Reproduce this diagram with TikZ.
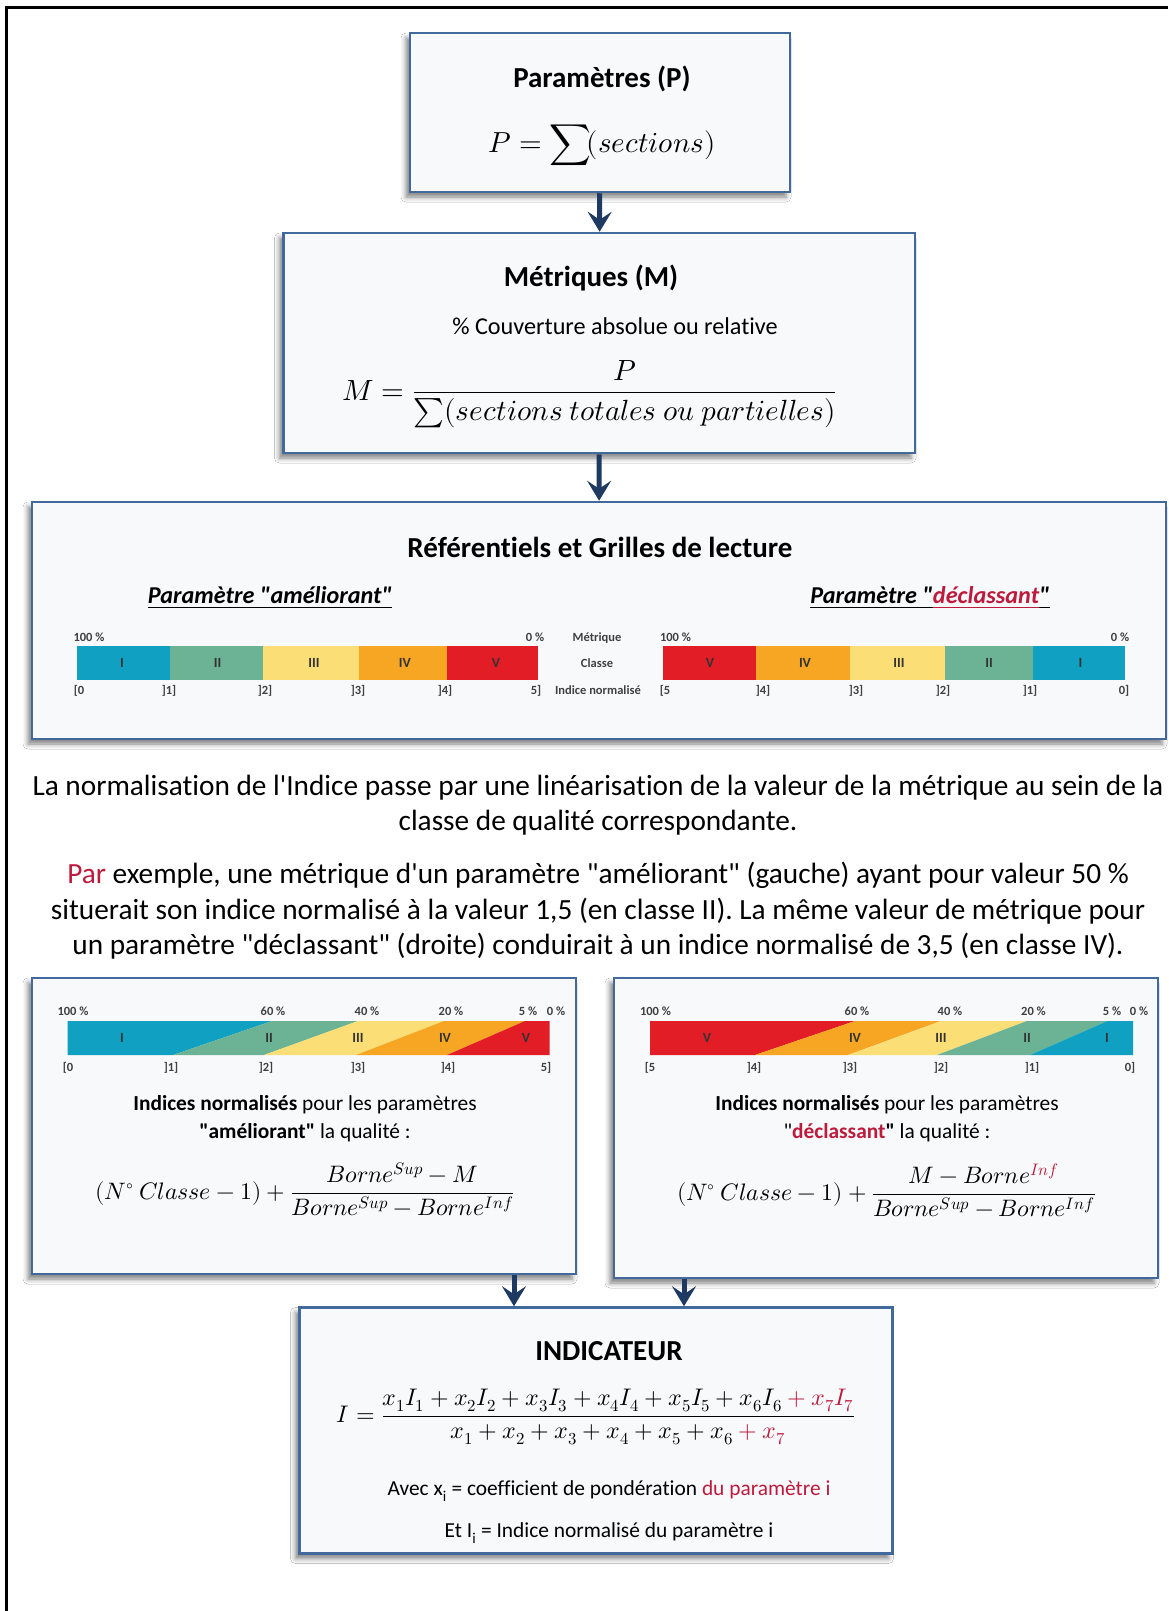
\documentclass[tikz,border=0pt]{standalone}
\usepackage{amsmath}
\usepackage{fontspec}
\usepackage{unicode-math}
\setmainfont{Carlito}[Ligatures=NoCommon]
\setmathfont{Latin Modern Math}
\usetikzlibrary{arrows.meta,shadows.blur}
\definecolor{boxfill}{HTML}{F8F9FB}
\definecolor{boxdraw}{HTML}{41699B}
\definecolor{arrowc}{HTML}{1E3A63}
\definecolor{crim}{HTML}{BE1A3C}
\definecolor{cblue}{HTML}{10A0C1}
\definecolor{cgreen}{HTML}{6BB394}
\definecolor{cyellow}{HTML}{FCDE77}
\definecolor{corange}{HTML}{F6A623}
\definecolor{cred}{HTML}{E31D25}
\definecolor{lblgray}{HTML}{404040}
\newcommand\dq{\textquotedbl}
\begin{document}
\begin{tikzpicture}[x=1pt,y=-1pt,
  box/.style={draw=boxdraw, line width=2.5pt, fill=boxfill, inner sep=0pt,
    blur shadow={shadow xshift=-4pt, shadow yshift=-5pt, shadow blur radius=5pt, shadow opacity=50}},
  arr/.style={draw=arrowc, line width=5pt, -{Stealth[length=20pt,width=24pt,inset=8pt]}},
  txt/.style={inner sep=0pt, anchor=base},
  ttl/.style={txt, yshift=-9.5pt, font=\fontsize{29}{35}\selectfont\bfseries},
  body/.style={txt, yshift=-7.7pt, font=\fontsize{24.2}{29}\selectfont},
  para/.style={txt, yshift=-9.4pt, font=\fontsize{29.3}{35}\selectfont},
  small/.style={txt, yshift=-6.8pt, font=\fontsize{21.4}{26}\selectfont},
  sub/.style={txt, yshift=-7.7pt, font=\fontsize{24.2}{29}\selectfont\bfseries\itshape},
  mth/.style={inner sep=0pt, anchor=base},
  lbl/.style={txt, yshift=-4pt, font=\fontsize{12.5}{14}\selectfont\bfseries, text=lblgray},
  rom/.style={txt, yshift=-4.5pt, font=\fontsize{14}{16}\selectfont\bfseries, text=black!80},
]
\useasboundingbox (0,0) rectangle (1168,1611);
\fill[white] (0,0) rectangle (1168,1611);
\draw[line width=3pt] (6,1611) -- (6,8) -- (1168,8);

% ---------- boxes ----------
\node[box, minimum width=380pt, minimum height=159pt] (P) at (600,112.5) {};
\node[box, minimum width=631.5pt, minimum height=220pt] (M) at (599.25,343) {};
\node[box, minimum width=1134pt, minimum height=237pt] (R) at (599,620.5) {};
\node[box, minimum width=544pt, minimum height=296pt] (L) at (304,1126) {};
\node[box, minimum width=544pt, minimum height=300pt] (Rt) at (886,1128) {};
\node[box, minimum width=593pt, minimum height=246pt] (I) at (596,1430.5) {};

% ---------- connectors ----------
\coordinate (aL) at (514,0);
\coordinate (aR) at (684,0);
\draw[arr] (P) -- (M);
\draw[arr] (M) -- (R);
\draw[arr] (L.south -| aL) -- (I.north -| aL);
\draw[arr] (Rt.south -| aR) -- (I.north -| aR);

% ---------- box P ----------
\node[ttl] (Pt) at (602,78) {Paramètres (P)};
\node[mth, font=\fontsize{29}{35}\selectfont] (Pf) at (602,152) {$P=\displaystyle\sum\!(sections)$};

% ---------- box M ----------
\node[ttl] (Mt) at (591,277) {Métriques (M)};
\node[body] (Mc) at (615,327) {\% Couverture absolue ou relative};
\node[mth, font=\fontsize{29.2}{35}\selectfont] (Mf) at (589.5,400) {$M=\dfrac{P}{\sum(sections\ totales\ ou\ partielles)}$};

% ---------- box R ----------
\node[ttl] (Rt0) at (600,548) {Référentiels et Grilles de lecture};
\node[sub] (Ra) at (270,596) {\underline{Paramètre \dq améliorant\dq}};
\node[sub] (Rd) at (930,596) {\underline{Paramètre \dq}\textcolor{crim}{\underline{déclassant}}\underline{\dq}};

\fill[cblue]   (76.5,646) rectangle (169.5,680);
\fill[cgreen]  (169.5,646) rectangle (263,680);
\fill[cyellow] (263,646) rectangle (358.5,680);
\fill[corange] (358.5,646) rectangle (447,680);
\fill[cred]    (447,646) rectangle (538,680);

\fill[cred]    (662.5,646) rectangle (756,680);
\fill[corange] (756,646) rectangle (850,680);
\fill[cyellow] (850,646) rectangle (945,680);
\fill[cgreen]  (945,646) rectangle (1033,680);
\fill[cblue]   (1033,646) rectangle (1124.5,680);

\node[lbl] (ra1) at (89,637) {100~\%};
\node[lbl] (ra2) at (535,637) {0~\%};
\node[rom] (ra3) at (122,663) {I};
\node[rom] (ra4) at (217.5,663) {II};
\node[rom] (ra5) at (314,663) {III};
\node[rom] (ra6) at (405,663) {IV};
\node[rom] (ra7) at (496,663) {V};
\node[lbl] (ra8) at (79,690) {[0};
\node[lbl] (ra9) at (169,690) {]1]};
\node[lbl] (ra10) at (265,690) {]2]};
\node[lbl] (ra11) at (358,690) {]3]};
\node[lbl] (ra12) at (445,690) {]4]};
\node[lbl] (ra13) at (536,690) {5]};

\node[lbl] (rm1) at (597,637) {Métrique};
\node[lbl] (rm2) at (597,663) {Classe};
\node[lbl] (rm3) at (598,690) {Indice normalisé};

\node[lbl] (rd1) at (675.5,637) {100~\%};
\node[lbl] (rd2) at (1120,637) {0~\%};
\node[rom] (rd3) at (710,663) {V};
\node[rom] (rd4) at (805,663) {IV};
\node[rom] (rd5) at (899,663) {III};
\node[rom] (rd6) at (989,663) {II};
\node[rom] (rd7) at (1080.5,663) {I};
\node[lbl] (rd8) at (665,690) {[5};
\node[lbl] (rd9) at (763,690) {]4]};
\node[lbl] (rd10) at (856,690) {]3]};
\node[lbl] (rd11) at (943,690) {]2]};
\node[lbl] (rd12) at (1030,690) {]1]};
\node[lbl] (rd13) at (1124,690) {0]};

% ---------- paragraphs ----------
\node[para] (p1) at (598,786) {La normalisation de l\textquotesingle Indice passe par une linéarisation de la valeur de la métrique au sein de la};
\node[para] (p2) at (598,821) {classe de qualité correspondante.};
\node[para] (p3) at (598,874) {\textcolor{crim}{Par} exemple, une métrique d\textquotesingle un paramètre \dq améliorant\dq{} (gauche) ayant pour valeur 50~\%};
\node[para] (p4) at (598,910) {situerait son indice normalisé à la valeur 1,5 (en classe II). La même valeur de métrique pour};
\node[para] (p5) at (598,945) {un paramètre \dq déclassant\dq{} (droite) conduirait à un indice normalisé de 3,5 (en classe IV).};

% ---------- box L ----------
\fill[cblue]   (67.5,1021) -- (272,1021) -- (173,1055) -- (67.5,1055) -- cycle;
\fill[cgreen]  (272,1021) -- (358,1021) -- (264,1055) -- (173,1055) -- cycle;
\fill[cyellow] (358,1021) -- (444,1021) -- (356,1055) -- (264,1055) -- cycle;
\fill[corange] (444,1021) -- (525,1021) -- (447,1055) -- (356,1055) -- cycle;
\fill[cred]    (525,1021) -- (549.6,1021) -- (549.6,1055) -- (447,1055) -- cycle;

\node[lbl] (la1) at (73,1011) {100~\%};
\node[lbl] (la2) at (273,1011) {60~\%};
\node[lbl] (la3) at (367,1011) {40~\%};
\node[lbl] (la4) at (451,1011) {20~\%};
\node[lbl] (la5) at (528,1011) {5~\%};
\node[lbl] (la6) at (556,1011) {0~\%};
\node[rom] (la7) at (122,1038) {I};
\node[rom] (la8) at (269,1038) {II};
\node[rom] (la9) at (358,1038) {III};
\node[rom] (la10) at (445,1038) {IV};
\node[rom] (la11) at (526,1038) {V};
\node[lbl] (la12) at (68,1067) {[0};
\node[lbl] (la13) at (171,1067) {]1]};
\node[lbl] (la14) at (266,1067) {]2]};
\node[lbl] (la15) at (358,1067) {]3]};
\node[lbl] (la16) at (448,1067) {]4]};
\node[lbl] (la17) at (546,1067) {5]};

\node[small] (lt1) at (305,1104) {\textbf{Indices normalisés} pour les paramètres};
\node[small] (lt2) at (305,1132) {\textbf{\dq améliorant\dq} la qualité :};
\node[mth, font=\fontsize{23.8}{28}\selectfont] (lf) at (305,1199) {$(N^{\circ}\ Classe-1)+\dfrac{Borne^{Sup}-M}{Borne^{Sup}-Borne^{Inf}}$};

% ---------- box Rt ----------
\fill[cred]    (650,1021) -- (855,1021) -- (755,1055) -- (650,1055) -- cycle;
\fill[corange] (855,1021) -- (941,1021) -- (848,1055) -- (755,1055) -- cycle;
\fill[cyellow] (941,1021) -- (1027,1021) -- (937,1055) -- (848,1055) -- cycle;
\fill[cgreen]  (1027,1021) -- (1107.5,1021) -- (1030,1055) -- (937,1055) -- cycle;
\fill[cblue]   (1107.5,1021) -- (1133,1021) -- (1133,1055) -- (1030,1055) -- cycle;

\node[lbl] (da1) at (655.5,1011) {100~\%};
\node[lbl] (da2) at (857,1011) {60~\%};
\node[lbl] (da3) at (950,1011) {40~\%};
\node[lbl] (da4) at (1033.5,1011) {20~\%};
\node[lbl] (da5) at (1112,1011) {5~\%};
\node[lbl] (da6) at (1139,1011) {0~\%};
\node[rom] (da7) at (707,1038) {V};
\node[rom] (da8) at (855,1038) {IV};
\node[rom] (da9) at (941,1038) {III};
\node[rom] (da10) at (1027,1038) {II};
\node[rom] (da11) at (1107,1038) {I};
\node[lbl] (da12) at (650,1067) {[5};
\node[lbl] (da13) at (754,1067) {]4]};
\node[lbl] (da14) at (850,1067) {]3]};
\node[lbl] (da15) at (941,1067) {]2]};
\node[lbl] (da16) at (1032,1067) {]1]};
\node[lbl] (da17) at (1130,1067) {0]};

\node[small] (dt1) at (887,1104) {\textbf{Indices normalisés} pour les paramètres};
\node[small] (dt2) at (887,1132) {\dq\textbf{\textcolor{crim}{déclassant}\dq} la qualité :};
\node[mth, font=\fontsize{23.8}{28}\selectfont] (df) at (886.5,1200) {$(N^{\circ}\ Classe-1)+\dfrac{M-Borne^{\textcolor{crim}{Inf}}}{Borne^{Sup}-Borne^{Inf}}$};

% ---------- box I ----------
\node[ttl] (It) at (609,1351) {INDICATEUR};
\node[mth, font=\fontsize{24}{29}\selectfont] (If) at (596,1422) {$I=\dfrac{x_1I_1+x_2I_2+x_3I_3+x_4I_4+x_5I_5+x_6I_6\mathbin{\textcolor{crim}{+}}\textcolor{crim}{x_7I_7}}{x_1+x_2+x_3+x_4+x_5+x_6\mathbin{\textcolor{crim}{+}}\textcolor{crim}{x_7}}$};
\node[small] (Ia) at (609,1489) {Avec x\textsubscript{i} = coefficient de pondération \textcolor{crim}{du paramètre i}};
\node[small] (Ie) at (609,1531) {Et I\textsubscript{i} = Indice normalisé du paramètre i};
\end{tikzpicture}
\end{document}
